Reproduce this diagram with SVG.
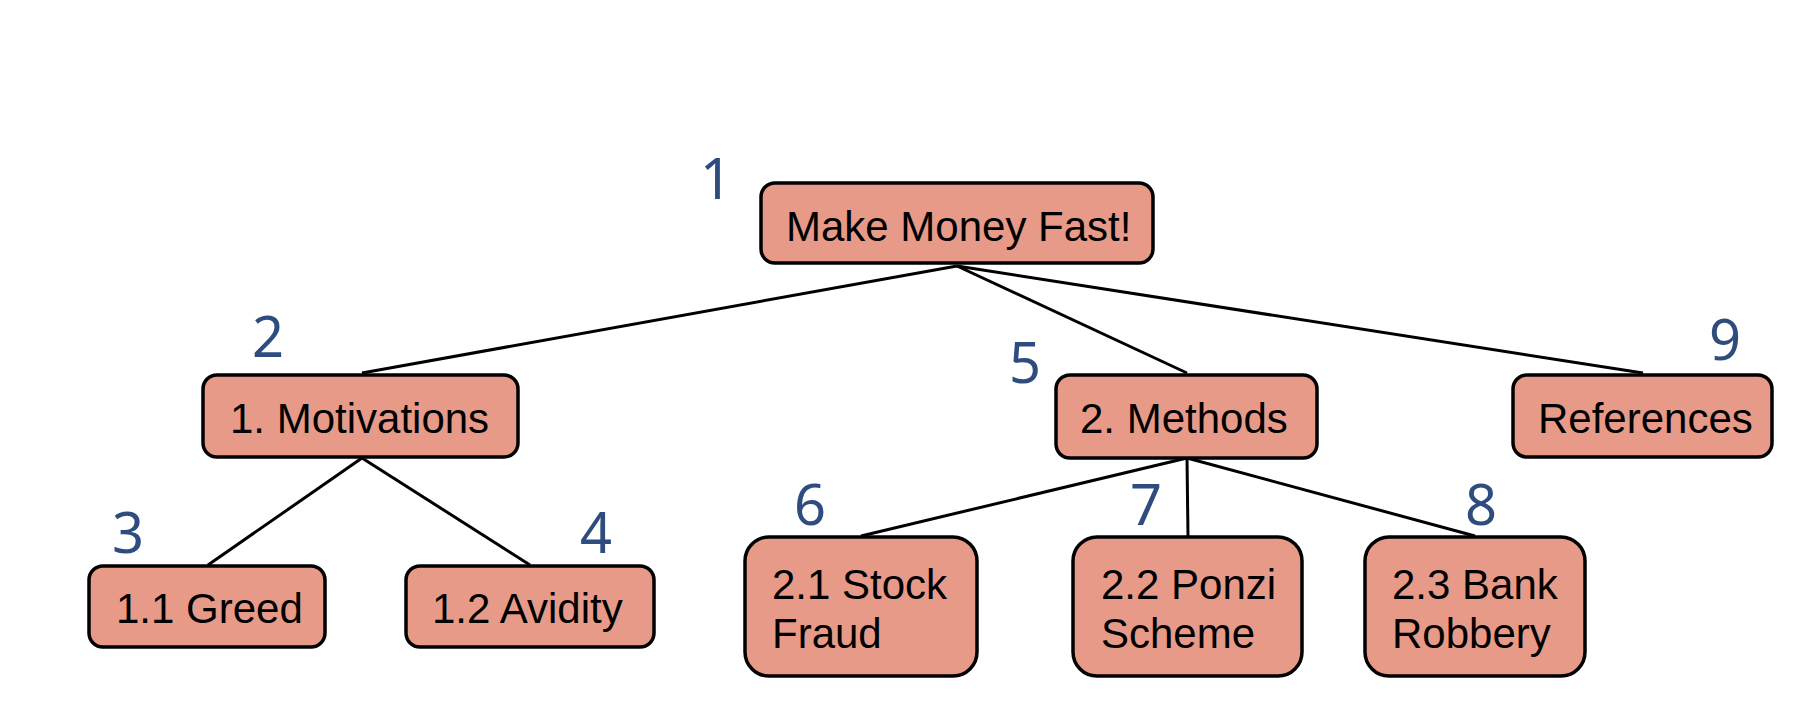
<svg xmlns="http://www.w3.org/2000/svg" width="1812" height="720" viewBox="0 0 1812 720">
<style>
.box{fill:#E89A89;stroke:#000;stroke-width:3.5}
.t{font-family:"Liberation Sans",Arial,sans-serif;font-size:42px;fill:#000}
.n{font-family:"Noto Sans","Open Sans",sans-serif;font-size:56px;fill:#2E4C7E;text-anchor:middle}
.c{stroke:#000;stroke-width:3;fill:none}
</style>
<rect width="1812" height="720" fill="#fff"/>
<g id="connectors">
<line class="c" x1="957" y1="266" x2="362" y2="373"/>
<line class="c" x1="957" y1="266" x2="1187" y2="373"/>
<line class="c" x1="957" y1="266" x2="1643" y2="373"/>
<line class="c" x1="362" y1="458" x2="208" y2="565"/>
<line class="c" x1="362" y1="458" x2="530" y2="565"/>
<line class="c" x1="1187" y1="458" x2="861" y2="536"/>
<line class="c" x1="1187" y1="458" x2="1188" y2="536"/>
<line class="c" x1="1187" y1="458" x2="1475" y2="536"/>
</g>
<g id="n1">
<rect class="box" x="761" y="183" width="392" height="80" rx="14"/>
<text class="t" x="786" y="241">Make Money Fast!</text>
<text class="n" x="716" y="199">1</text>
</g>
<g id="n2">
<rect class="box" x="203" y="375" width="315" height="82" rx="14"/>
<text class="t" x="230" y="433">1. Motivations</text>
<text class="n" x="268" y="357">2</text>
</g>
<g id="n3">
<rect class="box" x="89" y="566" width="236" height="81" rx="14"/>
<text class="t" x="116" y="623">1.1 Greed</text>
<text class="n" x="128" y="553">3</text>
</g>
<g id="n4">
<rect class="box" x="406" y="566" width="248" height="81" rx="14"/>
<text class="t" x="432" y="623">1.2 Avidity</text>
<text class="n" x="596" y="553">4</text>
</g>
<g id="n5">
<rect class="box" x="1056" y="375" width="261" height="83" rx="14"/>
<text class="t" x="1080" y="433">2. Methods</text>
<text class="n" x="1025" y="383">5</text>
</g>
<g id="n6">
<rect class="box" x="745" y="537" width="232" height="139" rx="24"/>
<text class="t" x="772" y="599">2.1 Stock</text>
<text class="t" x="772" y="648">Fraud</text>
<text class="n" x="810" y="525">6</text>
</g>
<g id="n7">
<rect class="box" x="1073" y="537" width="229" height="139" rx="24"/>
<text class="t" x="1101" y="599">2.2 Ponzi</text>
<text class="t" x="1101" y="648">Scheme</text>
<text class="n" x="1146" y="525">7</text>
</g>
<g id="n8">
<rect class="box" x="1365" y="537" width="220" height="139" rx="24"/>
<text class="t" x="1392" y="599">2.3 Bank</text>
<text class="t" x="1392" y="648">Robbery</text>
<text class="n" x="1481" y="525">8</text>
</g>
<g id="n9">
<rect class="box" x="1513" y="375" width="259" height="82" rx="14"/>
<text class="t" x="1538" y="433">References</text>
<text class="n" x="1725" y="360">9</text>
</g>
</svg>
